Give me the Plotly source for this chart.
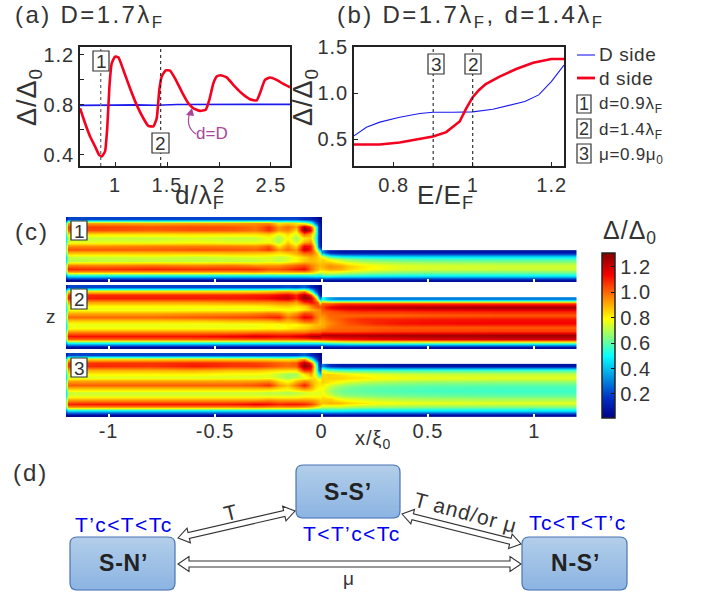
import math
import numpy as np
import plotly.graph_objects as go

W, H = 705, 597
FONT = "Liberation Sans"
INK = "#333333"

# ---------- data ----------
a_d = [0.663,0.712,0.76,0.808,0.846,0.872,0.904,0.926,0.946,0.968,1.0,1.032,1.08,1.144,1.208,1.272,1.32,1.369,1.401,1.426,1.449,1.487,1.529,1.577,1.641,1.705,1.753,1.817,1.872,1.907,1.946,1.978,2.016,2.074,2.138,2.218,2.298,2.362,2.394,2.442,2.49,2.554,2.619,2.683]
a_red = [0.773,0.653,0.547,0.467,0.4,0.387,0.427,0.627,0.947,1.133,1.187,1.181,1.08,0.933,0.8,0.693,0.632,0.627,0.693,0.92,1.027,1.077,1.075,1.013,0.907,0.813,0.773,0.752,0.76,0.84,0.973,1.027,1.037,1.021,0.96,0.893,0.845,0.835,0.893,1.0,1.019,1.0,0.968,0.941]
a_blue_d = [0.663,0.8,1.0,1.2,1.4,1.6,1.8,2.0,2.2,2.4,2.683]
a_blue = [0.796,0.795,0.798,0.8,0.797,0.803,0.803,0.804,0.803,0.804,0.804]

b_e = [0.6996,0.7646,0.815,0.857,0.8996,0.933,0.967,0.984,1.0,1.016,1.033,1.068,1.11,1.153,1.199,1.231]
b_red = [0.442,0.442,0.464,0.493,0.529,0.576,0.692,0.837,0.957,1.036,1.101,1.181,1.264,1.333,1.373,1.373]
b_blue_e = [0.6996,0.731,0.765,0.815,0.866,0.8996,0.95,1.0,1.051,1.094,1.132,1.167,1.199,1.231]
b_blue = [0.536,0.63,0.685,0.739,0.779,0.793,0.793,0.797,0.826,0.866,0.909,0.982,1.127,1.308]

x_left_edges = [-1.2,-1.196,-1.184,-0.9,-0.7,-0.5,-0.35,-0.275,-0.225,-0.18,-0.14,-0.1,-0.065,-0.04,-0.022,-0.01,0]
x_right_edges = [0,0.02,0.06,0.12,0.25,0.5,1.2]

map1_left = [
 [.1,.2,.2,.2,.2,.2,.2,.2,.2,.2,.2,.15,.12,.08,.05,.03],
 [.5,.92,.92,.9,.92,.92,.94,.95,.82,.86,.82,.75,.6,.3,.12,.05],
 [.62,1.06,1.06,1.03,1.04,1.03,.98,1.08,.93,1.0,.92,1.25,1.05,.65,.25,.07],
 [.62,1.03,1.04,1.01,1.03,1.02,.98,1.08,.93,.97,.84,1.3,1.15,.7,.25,.07],
 [.55,.83,.83,.83,.83,.83,.83,.86,.76,.84,.74,1.0,.9,.65,.25,.07],
 [.46,.72,.72,.72,.74,.72,.72,.78,.68,.8,.68,.82,.85,.6,.22,.07],
 [.5,.76,.76,.76,.78,.76,.76,.78,.7,.85,.72,.9,.95,.65,.25,.07],
 [.6,.95,.95,.97,.97,.97,.95,1.02,.82,.95,.84,1.15,1.1,.75,.3,.1],
 [.64,1.03,1.03,1.02,1.04,1.03,1.01,1.08,.93,1.0,.93,1.2,1.1,.85,.55,.3],
 [.58,.88,.87,.87,.87,.88,.87,.86,.83,.86,.9,1.0,1.0,.92,.8,.65],
 [.46,.72,.73,.74,.72,.74,.75,.75,.72,.74,.8,.85,.9,.88,.85,.82],
 [.46,.7,.72,.72,.72,.72,.72,.75,.72,.76,.8,.86,.88,.88,.85,.85],
 [.62,.97,.95,.97,.95,.97,.93,.93,.93,.97,1.0,1.03,.96,.92,.9,.88],
 [.68,1.1,1.08,1.1,1.08,1.08,1.08,1.03,1.03,1.06,1.1,1.13,1.0,.92,.88,.85],
 [.55,.86,.86,.86,.86,.86,.88,.84,.86,.86,.86,.86,.84,.8,.75,.72],
 [.3,.45,.45,.45,.45,.45,.45,.45,.45,.45,.45,.45,.46,.48,.48,.46],
 [.05,.05,.05,.05,.05,.05,.05,.05,.05,.05,.05,.05,.05,.05,.05,.05],
]
map1_right = [
 [.3,.12,.08,.08,.08,.08],
 [.7,.5,.42,.4,.38,.38],
 [.85,.78,.7,.64,.6,.58],
 [.88,.88,.82,.74,.7,.68],
 [.9,.95,.92,.82,.76,.74],
 [.85,.9,.88,.8,.74,.72],
 [.72,.72,.7,.66,.62,.6],
 [.46,.45,.42,.42,.4,.4],
 [.06,.06,.06,.06,.06,.06],
]
map2_left = [
 [.1,.2,.2,.2,.2,.2,.2,.2,.2,.22,.2,.25,.15,.08,.05,.03],
 [.5,.82,.82,.82,.82,.82,.82,.84,.88,.9,.85,.95,.6,.28,.1,.05],
 [.65,1.06,1.08,1.08,1.08,1.08,1.1,1.1,1.13,1.16,1.08,1.25,1.05,.6,.25,.08],
 [.68,1.1,1.11,1.11,1.11,1.11,1.12,1.14,1.18,1.22,1.1,1.28,1.22,.95,.55,.22],
 [.6,.92,.92,.92,.92,.94,.95,.95,.97,.97,.92,1.08,1.12,1.08,.98,.72],
 [.5,.8,.8,.8,.8,.8,.8,.82,.84,.85,.82,.85,.95,1.02,1.04,1.02],
 [.48,.76,.76,.76,.76,.76,.76,.76,.78,.76,.76,.82,.88,.92,.95,.95],
 [.55,.9,.9,.9,.92,.93,.95,.98,.96,.88,.93,1.04,1.02,.96,.95,.95],
 [.6,1.0,1.0,1.0,1.02,1.04,1.05,1.08,1.1,.96,1.03,1.15,1.12,1.0,.95,.92],
 [.52,.85,.85,.85,.85,.87,.88,.88,.92,.88,.92,1,1,.95,.92,.88],
 [.48,.76,.76,.76,.76,.76,.76,.78,.76,.8,.78,.82,.85,.88,.88,.88],
 [.48,.78,.78,.78,.78,.78,.78,.8,.78,.8,.83,.85,.88,.9,.92,.92],
 [.58,.96,.96,.96,.96,.96,.98,.98,.98,.98,.98,.98,1.02,1.02,1.02,1.02],
 [.66,1.12,1.12,1.12,1.12,1.15,1.18,1.17,1.15,1.15,1.18,1.2,1.25,1.25,1.25,1.25],
 [.6,.98,.98,.98,.98,.98,.98,.98,.98,.98,.98,.98,1,1.02,1.02,1.04],
 [.35,.5,.5,.5,.5,.5,.5,.5,.5,.5,.5,.5,.5,.5,.5,.5],
 [.06,.06,.06,.06,.06,.06,.06,.06,.06,.06,.06,.06,.06,.06,.06,.06],
]
map2_right = [
 [.5,.35,.3,.3,.3,.3],
 [1.0,1.0,1.05,1.05,1.05,1.05],
 [1.05,1.15,1.2,1.22,1.25,1.27],
 [1.0,1.02,1.05,1.08,1.08,1.1],
 [.95,1.0,1.0,1.0,1.0,1.02],
 [.92,.98,1.02,1.08,1.1,1.12],
 [.9,.95,1.0,1.06,1.12,1.14],
 [.92,.98,1.0,1.0,1.02,1.02],
 [1.02,1.02,1.02,1.03,1.05,1.06],
 [1.25,1.25,1.25,1.25,1.26,1.27],
 [1.05,1.08,1.1,1.12,1.15,1.18],
 [.5,.52,.55,.58,.58,.58],
 [.06,.06,.06,.06,.06,.06],
]
map3_left = [
 [.1,.2,.2,.2,.2,.2,.2,.2,.2,.2,.2,.25,.15,.08,.05,.03],
 [.5,.85,.85,.85,.86,.85,.85,.84,.82,.82,.84,.95,.6,.28,.1,.05],
 [.62,1.05,1.07,1.07,1.09,1.07,1.05,1.03,1.01,.99,1.02,1.25,1.05,.6,.25,.07],
 [.64,1.07,1.09,1.07,1.11,1.07,1.07,1.04,1.01,.99,1.01,1.28,1.2,.72,.3,.1],
 [.58,.9,.9,.9,.91,.88,.88,.86,.84,.84,.84,1.08,1.08,.72,.35,.2],
 [.5,.8,.8,.8,.8,.78,.78,.76,.72,.68,.68,.82,.92,.75,.55,.4],
 [.46,.72,.74,.74,.74,.74,.74,.76,.72,.68,.72,.75,.82,.82,.72,.68],
 [.55,.92,.92,.92,.92,.92,.93,.95,.84,.78,.88,.95,.9,.85,.82,.82],
 [.6,1.01,1.01,1.01,1.01,1.01,1.03,1.08,.93,.87,.98,1.1,.95,.85,.82,.82],
 [.52,.85,.85,.85,.85,.85,.85,.85,.82,.8,.86,.92,.88,.82,.78,.78],
 [.46,.72,.72,.72,.72,.72,.72,.7,.7,.68,.7,.72,.75,.75,.75,.75],
 [.48,.76,.76,.76,.76,.76,.76,.76,.76,.76,.76,.78,.78,.78,.78,.78],
 [.6,.93,.93,.93,.93,.93,.93,.96,.93,.93,.93,.93,.92,.9,.88,.85],
 [.65,1.09,1.11,1.11,1.11,1.11,1.15,1.13,1.09,1.11,1.11,1.09,1.05,.98,.92,.9],
 [.55,.88,.88,.88,.88,.88,.9,.88,.88,.88,.88,.86,.82,.78,.75,.72],
 [.3,.42,.42,.42,.42,.42,.42,.42,.42,.42,.42,.42,.42,.42,.42,.42],
 [.05,.05,.05,.05,.05,.05,.05,.05,.05,.05,.05,.05,.05,.05,.05,.05],
]
map3_right = [
 [.3,.15,.1,.1,.08,.08],
 [.75,.62,.58,.56,.56,.56],
 [.85,.85,.82,.78,.74,.72],
 [.85,.85,.85,.82,.78,.76],
 [.85,.82,.78,.72,.68,.66],
 [.8,.72,.66,.62,.6,.58],
 [.78,.68,.62,.6,.58,.56],
 [.8,.74,.66,.64,.62,.6],
 [.85,.85,.78,.74,.7,.68],
 [.88,.9,.88,.82,.78,.76],
 [.72,.72,.72,.68,.66,.64],
 [.48,.46,.46,.44,.44,.44],
 [.06,.06,.06,.06,.06,.06],
]
step_heights = [0.49, 0.81, 0.83]
cbar_ticks = [0.2, 0.4, 0.6, 0.8, 1.0, 1.2]
jet_scale = [[0, "rgb(0,0,135)"], [0.125, "rgb(0,50,200)"], [0.375, "rgb(5,255,255)"], [0.6, "rgb(255,255,0)"],
             [0.78, "rgb(255,85,0)"], [0.87, "rgb(245,0,0)"], [1, "rgb(128,0,0)"]]

# ---------- helpers ----------
def px(x): return x / W
def py(y): return 1 - y / H

shapes, notes = [], []

def spaced(s, sp):
    return f'<span style="letter-spacing:{sp}px">{s}</span>'

def text(x, y, s, size=20, color=INK, angle=0, anchor="center", bold=False, vanchor="middle"):
    notes.append(dict(x=px(x), y=py(y), xref="paper", yref="paper", text=s, showarrow=False,
                      xanchor=anchor, yanchor=vanchor, textangle=angle,
                      font=dict(family=FONT, size=size, color=color, weight=700 if bold else 400)))

def numbox(x0, y0, x1, y1, s, size=19):
    shapes.append(dict(type="rect", xref="paper", yref="paper", x0=px(x0), x1=px(x1), y0=py(y0), y1=py(y1),
                       fillcolor="white", line=dict(color="#333333", width=1.2)))
    text((x0 + x1) / 2, (y0 + y1) / 2 + 0.5, s, size=size)

def lam(size=10):
    return f'λ<sub style="font-size:{size}px">F</sub>'

def delta(size=12):
    return f'Δ/Δ<sub style="font-size:{size}px">0</sub>'

def hollow_arrow(x0, y0, x1, y1, body=3.0, head=7.5, hl=11):
    L = math.hypot(x1 - x0, y1 - y0)
    ux, uy = (x1 - x0) / L, (y1 - y0) / L
    nx, ny = -uy, ux
    def P(a, b):
        return f"{px(x0 + ux * a + nx * b):.5f},{py(y0 + uy * a + ny * b):.5f}"
    pts = [P(0, 0), P(hl, head), P(hl, body), P(L - hl, body), P(L - hl, head), P(L, 0),
           P(L - hl, -head), P(L - hl, -body), P(hl, -body), P(hl, -head)]
    shapes.append(dict(type="path", xref="paper", yref="paper", path="M " + " L ".join(pts) + " Z",
                       fillcolor="white", line=dict(color="#333333", width=1.1)))

def gradient_box(x0, y0, x1, y1, r=7):
    top, bot = (178, 206, 233), (140, 180, 226)
    n = int(y1 - y0)
    for i in range(n):
        t = i / (n - 1)
        col = "rgb(%d,%d,%d)" % tuple(round(top[k] + (bot[k] - top[k]) * t) for k in range(3))
        yc = y0 + i + 0.5
        d = max(r - (yc - y0), r - (y1 - yc), 0)
        ins = r - math.sqrt(max(r * r - d * d, 0))
        shapes.append(dict(type="rect", xref="paper", yref="paper", x0=px(x0 + ins), x1=px(x1 - ins),
                           y0=py(y0 + i), y1=py(y0 + i + 1.2), fillcolor=col, line=dict(width=0)))
    p = (f"M {px(x0+r)},{py(y0)} L {px(x1-r)},{py(y0)} Q {px(x1)},{py(y0)} {px(x1)},{py(y0+r)} "
         f"L {px(x1)},{py(y1-r)} Q {px(x1)},{py(y1)} {px(x1-r)},{py(y1)} L {px(x0+r)},{py(y1)} "
         f"Q {px(x0)},{py(y1)} {px(x0)},{py(y1-r)} L {px(x0)},{py(y0+r)} Q {px(x0)},{py(y0)} {px(x0+r)},{py(y0)} Z")
    shapes.append(dict(type="path", xref="paper", yref="paper", path=p, line=dict(color="#4A74B4", width=1.2)))

def dom_x(a, b): return [a / W, b / W]
def dom_y(top, bottom): return [1 - bottom / H, 1 - top / H]

fig = go.Figure()

# ---------- panel (a) ----------
ya_range = [0.31, 1.264]
fig.add_trace(go.Scatter(x=a_blue_d, y=a_blue, mode="lines", line=dict(color="#1A1AF0", width=1.6), xaxis="x", yaxis="y", showlegend=False))
fig.add_trace(go.Scatter(x=a_d, y=a_red, mode="lines", line=dict(color="#F5001E", width=2.6, shape="spline", smoothing=0.4), xaxis="x", yaxis="y", showlegend=False))
fig.add_trace(go.Scatter(x=[0.862, 0.862], y=ya_range, mode="lines", line=dict(color="#777777", width=1.4, dash="dot"), xaxis="x", yaxis="y", showlegend=False))
fig.add_trace(go.Scatter(x=[1.439, 1.439], y=ya_range, mode="lines", line=dict(color="#222222", width=1.1, dash="dot"), xaxis="x", yaxis="y", showlegend=False))

# ---------- panel (b) ----------
yb_range = [0.207, 1.504]
fig.add_trace(go.Scatter(x=b_blue_e, y=b_blue, mode="lines", line=dict(color="#1A1AF0", width=1.1), xaxis="x2", yaxis="y2", showlegend=False))
fig.add_trace(go.Scatter(x=b_e, y=b_red, mode="lines", line=dict(color="#F5001E", width=2.6), xaxis="x2", yaxis="y2", showlegend=False))
fig.add_trace(go.Scatter(x=[0.9, 0.9], y=yb_range, mode="lines", line=dict(color="#222222", width=1.1, dash="dot"), xaxis="x2", yaxis="y2", showlegend=False))
fig.add_trace(go.Scatter(x=[1.0, 1.0], y=yb_range, mode="lines", line=dict(color="#222222", width=1.1, dash="dot"), xaxis="x2", yaxis="y2", showlegend=False))

# ---------- panel (c) ----------
maps = [(map1_left, map1_right), (map2_left, map2_right), (map3_left, map3_right)]
for i, (ml, mr) in enumerate(maps):
    ax = str(i + 3)
    fig.add_trace(go.Heatmap(x=x_left_edges, y=np.linspace(1, 0, len(ml) + 1), z=ml, coloraxis="coloraxis",
                             zsmooth="best", xaxis="x" + ax, yaxis="y" + ax, hoverinfo="skip"))
    fig.add_trace(go.Heatmap(x=x_right_edges, y=np.linspace(step_heights[i], 0, len(mr) + 1), z=mr, coloraxis="coloraxis",
                             zsmooth="best", xaxis="x" + ax, yaxis="y" + ax, hoverinfo="skip"))

frame = dict(showline=True, mirror=True, linecolor="#222222", linewidth=1.5, showgrid=False, zeroline=False,
             ticks="inside", ticklen=4, tickcolor="#222222", tickwidth=1,
             tickfont=dict(family=FONT, size=20, color=INK))
map_x = dict(range=[-1.2, 1.2], tickvals=[-1, -0.5, 0, 0.5, 1], ticks="inside", ticklen=3, tickcolor="white",
             tickwidth=1.5, showgrid=False, zeroline=False, showline=False, tickfont=dict(family=FONT, size=20, color=INK))
map_y = dict(range=[0, 1], visible=False)

def tl(labels):
    return [spaced(s, 1) for s in labels]

layout = dict(
    width=W, height=H, margin=dict(l=0, r=0, t=0, b=0, autoexpand=False), paper_bgcolor="white", plot_bgcolor="white", showlegend=False,
    xaxis=dict(frame, domain=dom_x(80, 290), range=[0.663, 2.683], tickvals=[1, 1.5, 2, 2.5], ticktext=tl(["1", "1.5", "2", "2.5"]), anchor="y"),
    yaxis=dict(frame, domain=dom_y(47, 166), range=ya_range, tickvals=[0.4, 0.8, 1.2], ticktext=tl(["0.4", "0.8", "1.2"]), anchor="x",
               minor=dict(tickvals=[0.6, 1.0], ticks="inside", ticklen=4, tickcolor="#222222")),
    xaxis2=dict(frame, domain=dom_x(354, 564), range=[0.6996, 1.231], tickvals=[0.8, 1.0, 1.2], ticktext=tl(["0.8", "1", "1.2"]), anchor="y2"),
    yaxis2=dict(frame, domain=dom_y(47, 166), range=yb_range, tickvals=[0.5, 1.0, 1.5], ticktext=tl(["0.5", "1.0", "1.5"]), anchor="x2"),
    xaxis3=dict(map_x, domain=dom_x(66, 577), anchor="y3", showticklabels=False),
    yaxis3=dict(map_y, domain=dom_y(217, 282), anchor="x3"),
    xaxis4=dict(map_x, domain=dom_x(66, 577), anchor="y4", showticklabels=False),
    yaxis4=dict(map_y, domain=dom_y(285, 349), anchor="x4"),
    xaxis5=dict(map_x, domain=dom_x(66, 577), anchor="y5", ticktext=tl(["-1", "-0.5", "0", "0.5", "1"])),
    yaxis5=dict(map_y, domain=dom_y(353, 417), anchor="x5"),
    coloraxis=dict(cmin=0.01, cmax=1.31, colorscale=jet_scale, colorbar=dict(
        x=602 / W, xanchor="left", xpad=0, y=1 - 418 / H, yanchor="bottom", ypad=0, len=165 / H, lenmode="fraction",
        thickness=13, thicknessmode="pixels", tickvals=cbar_ticks, ticktext=tl(["0.2", "0.4", "0.6", "0.8", "1.0", "1.2"]),
        ticks="inside", ticklen=4, tickcolor="#111111", outlinecolor="#222222", outlinewidth=1.5, borderwidth=0,
        tickfont=dict(family=FONT, size=20, color=INK))),
)

# ---------- text ----------
text(13, 17, spaced(f'(a) D=1.7{lam()}', 2.4), size=24, anchor="left")
text(335, 17, spaced(f'(b) D=1.7{lam()}, d=1.4{lam()}', 2.4), size=24, anchor="left")
text(29, 97, spaced(delta(), 1), size=27, angle=-90)
text(305, 97, spaced(delta(), 1), size=27, angle=-90)
text(200, 196, spaced(f'd/{lam()}', 1), size=26)
text(445, 196, spaced('E/E<sub style="font-size:10px">F</sub>', 1), size=26)
text(212, 133, "d=D", size=17, color="#A8479A")
shapes.append(dict(type="path", xref="paper", yref="paper",
                   path=f"M {px(196)},{py(134)} Q {px(185)},{py(127)} {px(190)},{py(112)}",
                   line=dict(color="#A8479A", width=1.2)))
shapes.append(dict(type="path", xref="paper", yref="paper", fillcolor="#A8479A", line=dict(width=0),
                   path=f"M {px(192)},{py(108)} L {px(186)},{py(115)} L {px(194)},{py(116)} Z"))
numbox(93, 51, 109, 71, "1")
numbox(152, 133, 169, 153, "2")
numbox(428, 54, 444, 74, "3")
numbox(465, 54, 481, 74, "2")

# legend block of panel (b)
shapes.append(dict(type="line", xref="paper", yref="paper", x0=px(577), x1=px(595), y0=py(55), y1=py(55), line=dict(color="#1A1AF0", width=1.1)))
shapes.append(dict(type="line", xref="paper", yref="paper", x0=px(577), x1=px(595), y0=py(78), y1=py(78), line=dict(color="#F5001E", width=2.8)))
text(597, 55, spaced("D side", 0.6), size=19, anchor="left")
text(597, 79, spaced("d side", 0.6), size=19, anchor="left")
numbox(577, 95, 591, 113, "1", size=18)
numbox(577, 119, 591, 138, "2", size=18)
numbox(577, 144, 591, 163, "3", size=18)
text(597, 105, spaced(f'd=0.9{lam(8)}', 0.7), size=17, anchor="left")
text(597, 131, spaced(f'd=1.4{lam(8)}', 0.7), size=17, anchor="left")
text(597, 156, spaced('μ=0.9μ<sub style="font-size:8px">0</sub>', 0.7), size=17, anchor="left")

# panel (c) text
text(13, 231, spaced("(c)", 2), size=24, anchor="left")
text(51, 316, "z", size=19)
numbox(71, 221, 87, 240, "1")
numbox(71, 289, 87, 309, "2")
numbox(71, 358, 87, 377, "3")
text(373, 439, spaced('x/ξ<sub style="font-size:9px">0</sub>', 1), size=20)
text(630, 232, spaced(delta(12), 1), size=25)

# panel (d)
text(11, 472, spaced("(d)", 2), size=24, anchor="left")
gradient_box(296, 465, 400, 518)
gradient_box(70, 537, 175, 590)
gradient_box(522, 537, 627, 590)
text(348, 492, spaced("S-S’", 0.8), size=23, color="#222222", bold=True)
text(123, 563, spaced("S-N’", 0.8), size=23, color="#222222", bold=True)
text(575, 563, spaced("N-S’", 0.8), size=23, color="#222222", bold=True)
text(124, 524, spaced("T’c&lt;T&lt;Tc", 1.4), size=21, color="#0000F0")
text(352, 533, spaced("T&lt;T’c&lt;Tc", 1.4), size=21, color="#0000F0")
text(578, 522, spaced("Tc&lt;T&lt;T’c", 1.4), size=21, color="#0000F0")
text(230, 512, "T", size=21, angle=-14)
text(466, 512, spaced("T and/or μ", 1), size=21, angle=15)
text(348, 578, "μ", size=19)
hollow_arrow(178, 538, 295, 511)
hollow_arrow(402, 514, 521, 544)
hollow_arrow(178, 564, 521, 564)

layout["shapes"] = shapes
layout["annotations"] = notes
fig.update_layout(**layout)
fig.write_html("out.html", post_script="document.body.style.margin='0';", config={"displayModeBar": False})
